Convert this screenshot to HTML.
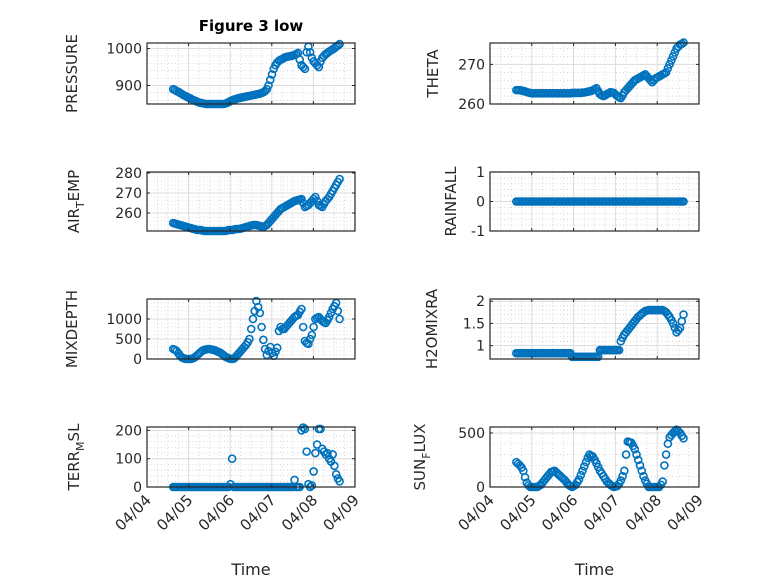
<!DOCTYPE html>
<html><head><meta charset="utf-8"><style>
html,body{margin:0;padding:0;background:#fff;}
svg{display:block;font-family:"DejaVu Sans","Liberation Sans",sans-serif;}
</style></head><body>
<svg id="fig" width="778" height="583" viewBox="0 0 778 583">
<rect width="778" height="583" fill="#fff"/>
<text x="251" y="31" text-anchor="middle" font-size="15" font-weight="bold" fill="#000">Figure 3 low</text>
</svg>
<script>
const startDay=0.63;
const hours=[0,1,2,3,4,5,6,7,8,9,10,11,12,13,14,15,16,17,18,19,20,21,22,23,24,25,26,27,28,29,30,31,32,33,34,35,36,37,38,39,40,41,42,43,44,45,46,47,48,49,50,51,52,53,54,55,56,57,58,59,60,61,62,63,64,65,66,67,68,69,70,71,72,73,74,75,76,77,78,79,80,81,82,83,84,85,86,87,88,89,90,91,92,93,94,95,96];
const pressure=[890,888,885,883,880,877,874,872,869,867,865,862,860,858,856,854,853,852,851,850,850,850,850,850,850,850,850,850,850,850,851,853,855,858,860,862,863,865,866,867,868,869,870,871,872,873,874,875,876,877,878,880,882,885,890,900,915,930,945,955,962,967,970,972,975,977,978,979,980,981,983,985,988,970,955,950,945,990,1005,990,975,965,960,955,950,965,975,980,985,988,992,995,998,1001,1005,1008,1012];
const airTemp=[255,254.7,254.5,254.2,254,253.7,253.5,253.2,253,252.7,252.5,252.2,252,251.7,251.5,251.5,251.5,251.2,251,251,251,251,251,251,251,251,251,251,251,251,251,251.2,251.5,251.5,251.5,251.7,252,252,252,252.2,252.5,252.7,253,253.2,253.5,253.7,254,254,254,253.7,253.5,253.2,253,253.5,254,255,256,257,258,259,260,261,262,262.5,263,263.5,264,264.5,265,265.5,266,266.2,266.5,266.7,267,265,263,263.5,264,265,266,267,268,266,264,263.5,263,264.5,266,267,268,269.5,271,272.5,274,275.5,277];
const theta=[263.5,263.5,263.5,263.4,263.3,263.2,263,262.9,262.8,262.7,262.7,262.7,262.7,262.7,262.7,262.7,262.7,262.7,262.7,262.7,262.7,262.7,262.7,262.7,262.7,262.7,262.7,262.7,262.7,262.7,262.7,262.7,262.8,262.8,262.8,262.8,262.8,262.8,262.9,262.9,263,263.1,263.2,263.3,263.5,263.7,264,263.2,262.5,262.2,262,262.2,262.5,262.7,263,262.9,262.8,262.4,262,261.7,261.5,262.2,263,263.5,264,264.5,265,265.5,266,266.2,266.5,266.7,267,267.2,267.5,267,266.5,266,265.5,266,266.5,266.7,267,267.2,267.5,267.7,268,269,270,271,272,273,274,274.5,275,275.2,275.5];
const rainfall=[0,0,0,0,0,0,0,0,0,0,0,0,0,0,0,0,0,0,0,0,0,0,0,0,0,0,0,0,0,0,0,0,0,0,0,0,0,0,0,0,0,0,0,0,0,0,0,0,0,0,0,0,0,0,0,0,0,0,0,0,0,0,0,0,0,0,0,0,0,0,0,0,0,0,0,0,0,0,0,0,0,0,0,0,0,0,0,0,0,0,0,0,0,0,0,0,0];
const mixDepth=[250,230,200,140,80,40,20,5,0,0,0,10,30,60,100,140,180,210,230,240,250,250,240,230,220,200,180,160,130,100,60,40,20,5,0,10,50,100,150,200,250,300,350,420,500,750,1000,1200,1450,1300,1150,800,480,250,100,200,300,150,80,180,280,700,800,750,750,800,850,900,950,1000,1050,1080,1100,1180,1250,800,450,400,380,500,600,800,1000,1030,1050,1000,950,920,900,970,1050,1150,1250,1320,1400,1200,1000];
const h2oMix=[0.83,0.83,0.83,0.83,0.83,0.83,0.83,0.83,0.83,0.83,0.83,0.83,0.83,0.83,0.83,0.83,0.83,0.83,0.83,0.83,0.83,0.83,0.83,0.83,0.83,0.83,0.83,0.83,0.83,0.83,0.83,0.83,0.75,0.75,0.75,0.75,0.75,0.75,0.75,0.75,0.75,0.75,0.75,0.75,0.75,0.75,0.75,0.75,0.9,0.9,0.9,0.9,0.9,0.9,0.9,0.9,0.9,0.9,0.9,0.9,1.1,1.18,1.25,1.3,1.35,1.4,1.45,1.5,1.55,1.6,1.65,1.68,1.72,1.75,1.78,1.79,1.8,1.8,1.8,1.8,1.8,1.8,1.8,1.8,1.8,1.78,1.75,1.7,1.65,1.58,1.5,1.4,1.3,1.35,1.4,1.55,1.7];
const terrMsl=[0,0,0,0,0,0,0,0,0,0,0,0,0,0,0,0,0,0,0,0,0,0,0,0,0,0,0,0,0,0,0,0,0,10,100,0,0,0,0,0,0,0,0,0,0,0,0,0,0,0,0,0,0,0,0,0,0,0,0,0,0,0,0,0,0,0,0,0,0,0,25,0,0,0,200,210,205,125,10,0,5,55,120,150,205,205,135,125,115,120,100,90,115,75,45,30,20];
const sunFlux=[230,215,200,180,150,90,40,15,0,0,0,0,0,10,20,40,60,80,100,120,140,145,150,135,120,105,90,75,60,40,20,10,0,10,20,45,70,110,150,190,230,270,300,290,280,250,220,185,150,125,100,75,50,35,20,10,0,5,10,30,60,100,150,300,420,415,410,380,350,300,250,200,150,100,60,30,0,0,0,0,0,0,0,20,50,200,300,400,460,480,500,515,530,515,500,475,450];
const xTickLabels=["04/04","04/05","04/06","04/07","04/08","04/09"];
const pressureTicks=[900,1000];
const airTicks=[260,270,280];
const thetaTicks=[260,270];
const rainTicks=[-1,0,1];
const mixTicks=[0,500,1000];
const h2oTicks=[1,1.5,2];
const terrTicks=[0,100,200];
const sunTicks=[0,500];

const NS="http://www.w3.org/2000/svg";
const svg=document.getElementById('fig');
function mk(tag,attrs,parent){const e=document.createElementNS(NS,tag);for(const k in attrs)e.setAttribute(k,attrs[k]);(parent||svg).appendChild(e);return e;}

const cols={L:[147,355],R:[490,699]};
const rows=[[43,104],[172,231],[299,359],[427,487]];
const panels=[
 {id:'pressure',col:'L',row:0,data:pressure,ylim:[850,1015],ticks:pressureTicks,label:['PRESSURE'],lx:77},
 {id:'theta',col:'R',row:0,data:theta,ylim:[260,275.4],ticks:thetaTicks,label:['THETA'],lx:438},
 {id:'air-temp',col:'L',row:1,data:airTemp,ylim:[251,280.5],ticks:airTicks,label:['AIR','T','EMP'],lx:79},
 {id:'rainfall',col:'R',row:1,data:rainfall,ylim:[-1,1],ticks:rainTicks,label:['RAINFALL'],lx:456},
 {id:'mixdepth',col:'L',row:2,data:mixDepth,ylim:[0,1500],ticks:mixTicks,label:['MIXDEPTH'],lx:77},
 {id:'h2omixra',col:'R',row:2,data:h2oMix,ylim:[0.7,2.05],ticks:h2oTicks,label:['H2OMIXRA'],lx:437},
 {id:'terr-msl',col:'L',row:3,data:terrMsl,ylim:[0,212],ticks:terrTicks,label:['TERR','M','SL'],lx:79},
 {id:'sun-flux',col:'R',row:3,data:sunFlux,ylim:[0,555],ticks:sunTicks,label:['SUN','F','LUX'],lx:425},
];

panels.forEach(p=>{
 const [x0,x1]=cols[p.col];const [y0,y1]=rows[p.row];
 const g=mk('g',{});
 
 
 const xs=d=>x0+(d-0)/5*(x1-x0);
 const ys=v=>y1-(v-p.ylim[0])/(p.ylim[1]-p.ylim[0])*(y1-y0);
 for(let d=0;d<5;d+=0.25){if(Math.abs(d-Math.round(d))<1e-6)continue;
  mk('line',{x1:xs(d),x2:xs(d),y1:y0,y2:y1,stroke:'#bdbdbd','stroke-width':0.6,'stroke-dasharray':'1,2.5'},g);}
 const tstep=p.ticks.length>1?(p.ticks[1]-p.ticks[0]):1;
 const ms=tstep/5;
 for(let v=p.ticks[0]-tstep;v<=p.ylim[1];v+=ms){if(v<p.ylim[0])continue;
  mk('line',{x1:x0,x2:x1,y1:ys(v),y2:ys(v),stroke:'#bdbdbd','stroke-width':0.6,'stroke-dasharray':'1,2.5'},g);}
 for(let d=1;d<5;d++) mk('line',{x1:xs(d),x2:xs(d),y1:y0,y2:y1,stroke:'#dcdcdc','stroke-width':1},g);
 p.ticks.forEach(v=>{mk('line',{x1:x0,x2:x1,y1:ys(v),y2:ys(v),stroke:'#dcdcdc','stroke-width':1},g);});
 const dg=mk('g',{},g);
 
 
 hours.forEach((h,i)=>{const t=startDay+h/24;
  const c=mk('circle',{cx:xs(t),cy:ys(p.data[i]),r:3.5,fill:'none',stroke:'#0072BD','stroke-width':1.6},dg);
  
  });
 const b=mk('rect',{x:x0,y:y0,width:x1-x0,height:y1-y0,fill:'none',stroke:'#262626','stroke-width':1.2},g);
 
 
 for(let d=0;d<=5;d++){mk('line',{x1:xs(d),x2:xs(d),y1:y1,y2:y1-3,stroke:'#262626'},g);mk('line',{x1:xs(d),x2:xs(d),y1:y0,y2:y0+3,stroke:'#262626'},g);}
 p.ticks.forEach(v=>{mk('line',{x1:x0,x2:x0+3,y1:ys(v),y2:ys(v),stroke:'#262626'},g);mk('line',{x1:x1,x2:x1-3,y1:ys(v),y2:ys(v),stroke:'#262626'},g);
  const t=mk('text',{x:x0-5,y:ys(v)+5,'text-anchor':'end','font-size':14,fill:'#262626'},g);t.textContent=String(v);
  
  });
 const yl=mk('text',{transform:`translate(${p.lx},${(y0+y1)/2}) rotate(-90)`,'text-anchor':'middle','font-size':15,fill:'#262626'},g);
 
 
 if(p.label.length===1){yl.textContent=p.label[0];}
 else{const a=mk('tspan',{},yl);a.textContent=p.label[0];
  const s=mk('tspan',{dy:5,'font-size':11},yl);s.textContent=p.label[1];
  const c=mk('tspan',{dy:-5},yl);c.textContent=p.label[2];}
 if(p.row===3){
  xTickLabels.forEach((lab,d)=>{const t=mk('text',{transform:`translate(${xs(d)+5},${y1+14}) rotate(-45)`,'text-anchor':'end','font-size':15,fill:'#262626'},g);t.textContent=lab;
   
   });
  const xl=mk('text',{x:(x0+x1)/2,y:575,'text-anchor':'middle','font-size':16,fill:'#262626'},g);xl.textContent='Time';
  
  
 }
});
</script>
</body></html>
